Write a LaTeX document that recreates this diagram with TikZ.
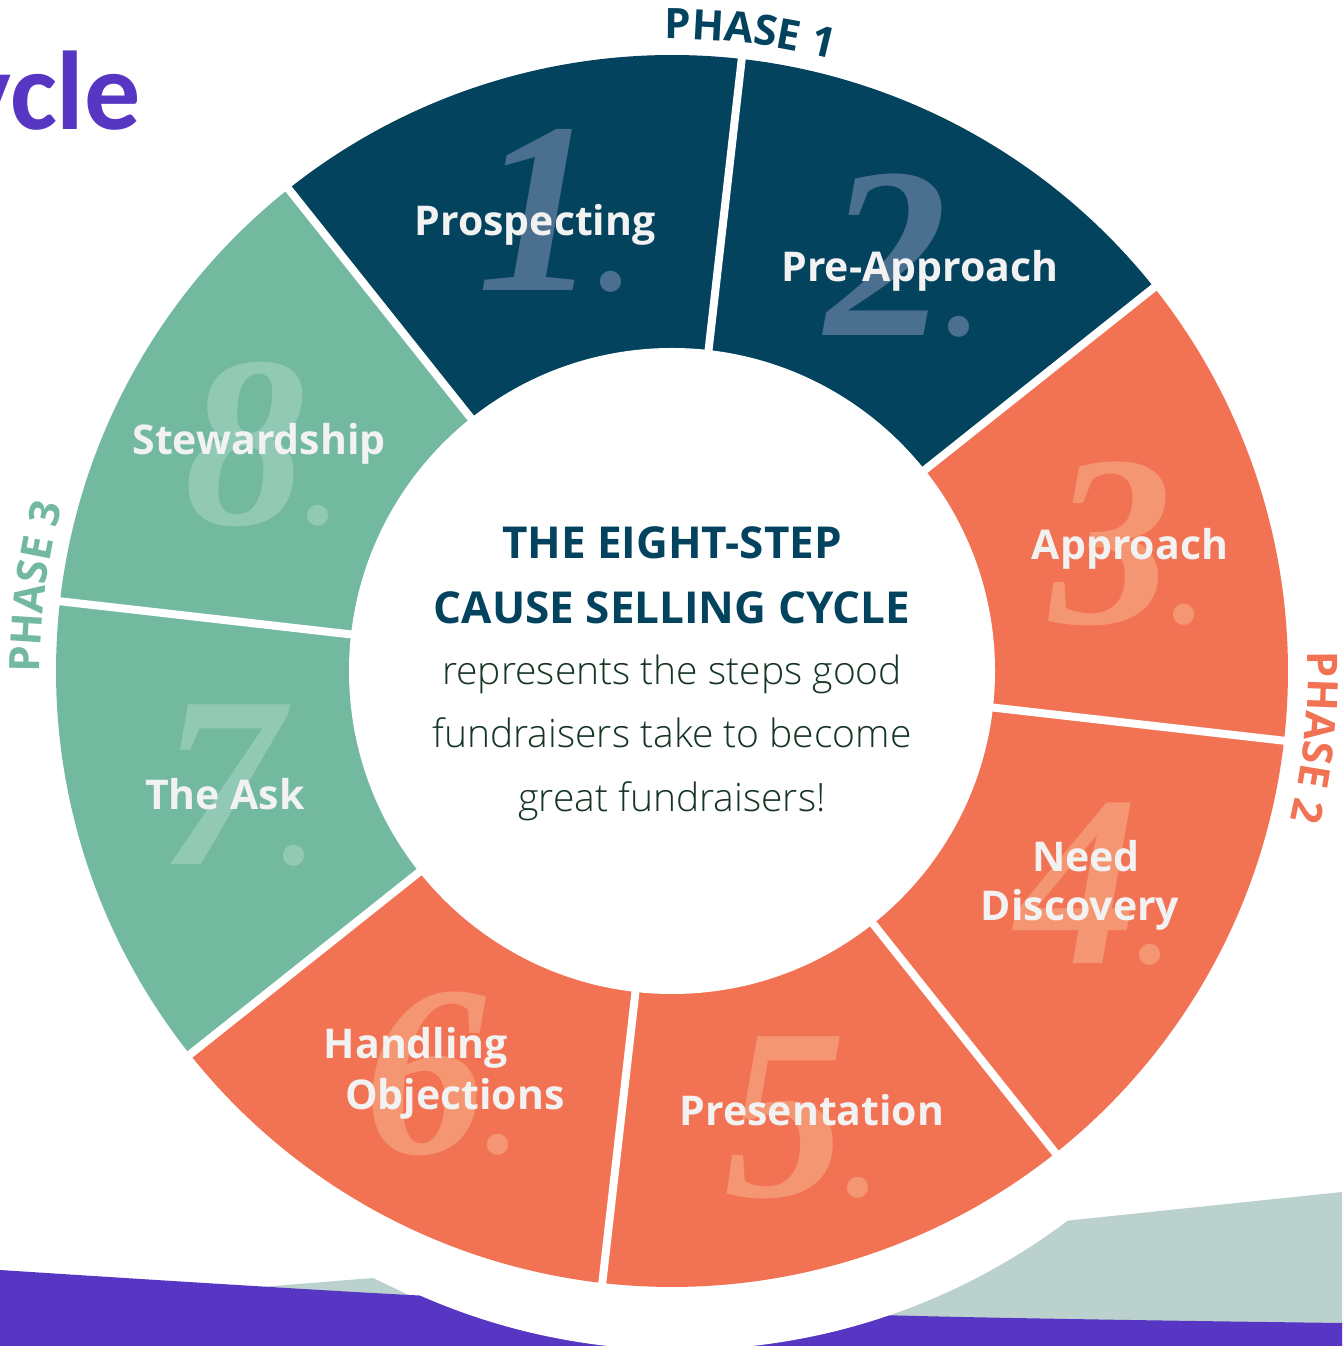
\documentclass[tikz,border=0pt]{standalone}
\usepackage{fontspec}
\usetikzlibrary{decorations.text}
\newfontfamily\osans{Open Sans}
\newfontfamily\oslight{Open Sans Light}
\newfontfamily\carlito{Carlito}
\newfontfamily\numserif{Liberation Serif}
\definecolor{navy}{HTML}{03435E}
\definecolor{coral}{HTML}{F27254}
\definecolor{sage}{HTML}{73B99F}
\definecolor{navynum}{HTML}{4A6F8F}
\definecolor{coralnum}{HTML}{F59672}
\definecolor{sagenum}{HTML}{91C9B4}
\definecolor{labeltext}{HTML}{F2F2F2}
\definecolor{mist}{HTML}{BAD1CE}
\definecolor{violet}{HTML}{5636C2}
\definecolor{bodytext}{HTML}{163523}
\newcommand\phasefont{\osans\bfseries\fontsize{42}{42}\selectfont}
% a big italic numeral followed by a smaller full stop
\newcommand\stepno[1]{#1{\fontsize{130}{130}\selectfont.}}
\begin{document}
\begin{tikzpicture}[x=1pt,y=1pt,
  steplabel/.style={inner sep=0pt, text=labeltext,
    font=\osans\bfseries\fontsize{41}{41}\selectfont},
  stepnum/.style={inner sep=0pt,
    font=\numserif\bfseries\itshape\fontsize{244}{244}\selectfont},
  headline/.style={inner sep=0pt, anchor=base, text=navy,
    font=\osans\bfseries\fontsize{44}{44}\selectfont},
  bodyline/.style={inner sep=0pt, anchor=base, text=bodytext,
    font=\oslight\fontsize{39}{39}\selectfont}]
\useasboundingbox (0,0) rectangle (1342,1346);
\fill[white] (0,0) rectangle (1342,1346);

% background bands at the foot of the page
\fill[mist] (100,46) -- (373,68) -- (440,36) -- (700,36) -- (1064,125)
  -- (1342,154) -- (1342,0) -- (100,0) -- cycle;
\fill[violet] plot[smooth] coordinates {(0,76) (410,51) (880,31) (1342,23)}
  -- (1342,0) -- (0,0) -- cycle;
\fill[white] (680,641) circle[radius=645];

% title fragment
\node[anchor=base east, inner sep=0pt, text=violet,
  font=\carlito\bfseries\fontsize{112}{112}\selectfont] (title) at (141,1216) {Cycle};

% the wheel
\begin{scope}[shift={(672,675)}]
  \foreach \a/\c in {128.5/navy, 83.5/navy, 38.5/coral, -6.5/coral,
                     -51.5/coral, -96.5/coral, -141.5/sage, -186.5/sage}
    \fill[\c] (0,0) -- (\a:616) arc[start angle=\a, delta angle=-45, radius=616] -- cycle;
  \foreach \a in {128.5, 83.5, 38.5, -6.5, -51.5, -96.5, -141.5, -186.5}
    \draw[white, line width=8] (\a:300) -- (\a:628);
  \fill[white] (0,0) circle[radius=323];

  % phase captions around the rim
  \path[decorate, decoration={text along path, text align=center,
    text={|\phasefont\color{navy}|PHASE 1}}]
    (95:632) arc[start angle=95, end angle=71, radius=632];
  \path[decorate, decoration={text along path, text align=center,
    text={|\phasefont\color{coral}|PHASE 2}}]
    (6.1:636) arc[start angle=6.1, end angle=-17.9, radius=636];
  \path[decorate, decoration={text along path, text align=center,
    text={|\phasefont\color{sage}|PHASE 3}}]
    (184.5:632) arc[start angle=184.5, end angle=160.5, radius=632];
\end{scope}

% step numbers
\node[stepnum, text=navynum]  (n1) at (555,1135) {\stepno{1}};
\node[stepnum, text=navynum]  (n2) at (903,1090) {\stepno{2}};
\node[stepnum, text=coralnum] (n3) at (1128,802) {\stepno{3}};
\node[stepnum, text=coralnum] (n4) at (1094,462) {\stepno{4}};
\node[stepnum, text=coralnum] (n5) at (802,228)  {\stepno{5}};
\node[stepnum, text=coralnum] (n6) at (442,272)  {\stepno{6}};
\node[stepnum, text=sagenum]  (n7) at (238,560)  {\stepno{7}};
\node[stepnum, text=sagenum]  (n8) at (262,901)  {\stepno{8}};

% step names
\node[steplabel] (s1)  at (535,1121) {Prospecting};
\node[steplabel] (s2)  at (920,1075) {Pre-Approach};
\node[steplabel] (s3)  at (1130,797) {Approach};
\node[steplabel] (s4a) at (1086,490) {Need};
\node[steplabel] (s4b) at (1080,436) {Discovery};
\node[steplabel] (s5)  at (812,236)  {Presentation};
\node[steplabel] (s6a) at (416,298)  {Handling};
\node[steplabel] (s6b) at (455,247)  {Objections};
\node[steplabel] (s7)  at (225,552)  {The Ask};
\node[steplabel] (s8)  at (259,902)  {Stewardship};

% centre text
\node[headline] (h1) at (672,787) {THE EIGHT-STEP};
\node[headline] (h2) at (672,722) {CAUSE SELLING CYCLE};
\node[bodyline] (b1) at (672,661) {represents the steps good};
\node[bodyline] (b2) at (672,598) {fundraisers take to become};
\node[bodyline] (b3) at (672,534) {great fundraisers!};
\end{tikzpicture}
\end{document}
